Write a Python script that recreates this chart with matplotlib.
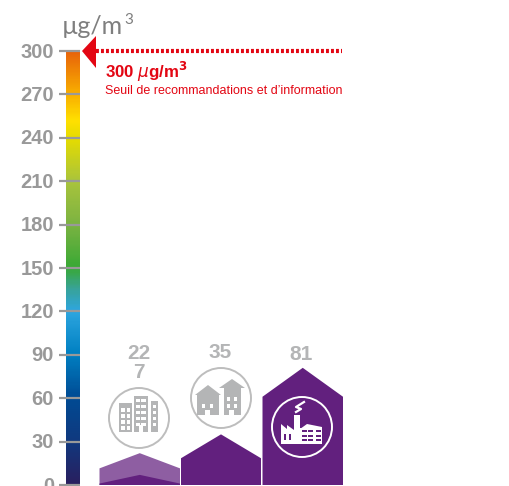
import numpy as np
import matplotlib
matplotlib.use('Agg')
import matplotlib.pyplot as plt
from matplotlib.colors import LinearSegmentedColormap
from matplotlib.patches import Circle, Polygon, Rectangle

ticks = [0, 30, 60, 90, 120, 150, 180, 210, 240, 270, 300]
threshold = 300
threshold_title = '300 $\\mu$g/m$^{\\mathbf{3}}$'
threshold_text = 'Seuil de recommandations et d\u2019information'
unit = '\u00b5g/m'
unit_exp = '3'
# valeurs des bâtiments, gauche à droite (le premier est double)
labels = ['22\n7', '35', '81']
peaks_back = [22, 35, 81]
peaks_front = [7, None, None]

scale_stops = [(0, '#2a1f5f'), (30, '#10397f'), (60, '#004b94'), (90, '#0080c2'),
               (120, '#2ea6e0'), (135, '#38a39a'), (150, '#39a935'), (180, '#7cb342'),
               (210, '#a9c43c'), (240, '#e6dc00'), (252, '#ffe000'), (270, '#f9b000'), (300, '#e8640a')]

GREY = '#999999'
LIGHT = '#b4b5b6'
PURPLE = '#62207e'
PURPLE_LIGHT = '#8e5ea2'
RED = '#e30613'
SANS = ['Liberation Sans Narrow', 'Liberation Sans', 'DejaVu Sans']

fig = plt.figure(figsize=(5.09, 4.86), dpi=100, facecolor='white')
ax = fig.add_axes([0, 0, 1, 1])
px = 434 / 300
ax.axis('off')

# surcouche en pixels pour les pictogrammes
ov = fig.add_axes([0, 0, 1, 1], facecolor='none')
ov.set_xlim(0, 509)
ov.set_ylim(486, 0)
ov.axis('off')

# échelle de couleurs
cmap = LinearSegmentedColormap.from_list('air', [(v / 300, c) for v, c in scale_stops])
grad = np.linspace(0, 1, 300).reshape(-1, 1)
ax.imshow(grad, cmap=cmap, origin='lower', extent=(66, 80, 0, threshold), aspect='auto', zorder=1)
ax.set_xlim(0, 509)
ax.set_ylim(-1 / px, 485 / px)

for t in ticks:
    ax.plot([59, 80], [t, t], color=GREY, lw=1.6, solid_capstyle='butt', zorder=2)
    ax.text(54, t - 0.7, str(t), ha='right', va='center', fontsize=14.5, color=GREY,
            family=SANS, fontweight='bold')

ov.text(62, 26, unit, ha='left', va='center', fontsize=18, color='#7f7f7f', family='Lato')
ov.text(124, 20, unit_exp, ha='left', va='center', fontsize=11, color='#7f7f7f', family='Lato')

# seuil
ax.plot([96, 342], [threshold, threshold], color=RED, lw=3, dashes=(0.7, 0.5), zorder=3)
ov.add_patch(Polygon([(82, 51), (96, 36), (96, 68)], closed=True, color=RED, lw=0, zorder=4))
ov.text(105, 72, threshold_title, ha='left', va='center', fontsize=12.2, color=RED,
        family=SANS, fontweight='bold', math_fontfamily='dejavusans')
ov.text(105, 91, threshold_text, ha='left', va='center', fontsize=9, color=RED, family=SANS)


def house(x0, x1, peak, eave, color, z=2):
    mid = (x0 + x1) / 2
    ax.add_patch(Polygon([(x0, 0), (x0, eave), (mid, peak), (x1, eave), (x1, 0)],
                         closed=True, facecolor=color, edgecolor='none', zorder=z))


house(99.5, 180, peaks_back[0], 11.5, PURPLE_LIGHT)
house(99.5, 180, peaks_front[0], 1, PURPLE, 3)
house(181, 261, peaks_back[1], 18.5, PURPLE)
house(262.5, 343, peaks_back[2], 61, PURPLE)

label_x = [139, 220, 301]
label_y = [363, 352, 354]
for x, y, s in zip(label_x, label_y, labels):
    ov.text(x, y, s, ha='center', va='center', fontsize=15, color=LIGHT,
            family='Liberation Sans', fontweight='bold', linespacing=1.0)


def rects(items, color, dx, dy, z=5):
    for x, y, w, h in items:
        ov.add_patch(Rectangle((dx + x, dy + y), w, h, facecolor=color, edgecolor='none', zorder=z))


def poly(points, color, dx, dy, z=5):
    ov.add_patch(Polygon([(dx + x, dy + y) for x, y in points], closed=True, color=color, lw=0, zorder=z))


def office(cx, cy):
    ov.add_patch(Circle((cx, cy), 30, facecolor='white', edgecolor='#bdbdbd', lw=1.4, zorder=4))
    rects([(-20, -15, 13, 29), (-5, -22, 14, 36), (12, -17, 7, 31)], LIGHT, cx, cy)
    for x in (-17.5, -12):
        for y in (-10, -4, 2, 8):
            rects([(x, y, 3.5, 4)], 'white', cx, cy, 6)
    for x in (-3, 2.5):
        for y in (-19, -13, -7, -1, 5):
            rects([(x, y, 4.5, 2.5)], 'white', cx, cy, 6)
    for y in (-13, -7, -1, 5):
        rects([(14, y, 3, 3)], 'white', cx, cy, 6)
    rects([(0, 7, 4, 7)], 'white', cx, cy, 6)


def small_houses(cx, cy):
    ov.add_patch(Circle((cx, cy), 30, facecolor='white', edgecolor='#bdbdbd', lw=1.4, zorder=4))
    poly([(-26, -3), (-13, -13), (0, -3)], LIGHT, cx, cy)
    poly([(-2, -10), (11, -19), (24, -10)], LIGHT, cx, cy)
    rects([(-24, -3, 22, 20), (3, -10, 17, 27)], LIGHT, cx, cy)
    rects([(-19, 6, 3.5, 3.5), (-11, 6, 3.5, 3.5), (6, -1, 3.5, 3.5), (13, -1, 3.5, 3.5),
           (6, 6, 3.5, 3.5), (13, 6, 3.5, 3.5), (-16, 12, 5, 5), (8, 12, 5, 5)], 'white', cx, cy, 6)


def factory(cx, cy):
    ov.add_patch(Circle((cx, cy), 30, facecolor='none', edgecolor='white', lw=1.4, zorder=4))
    W = 'white'
    poly([(-21, -3), (-15, 2), (-15, -2), (-8, 3), (-8, 17), (-21, 17)], W, cx, cy)
    rects([(-8, -12, 6, 29), (-2, 1, 22, 16)], W, cx, cy)
    poly([(-2, 2), (5, -3), (20, 0), (20, 2)], W, cx, cy)
    for y in (3, 7.5, 11.7):
        for x in (0, 6, 14):
            rects([(x, y, 5, 2.4)], PURPLE, cx, cy, 6)
    rects([(-18, 7, 2, 6), (-13, 7, 2, 6)], PURPLE, cx, cy, 6)
    ov.plot([cx + 2, cx - 6, cx - 1, cx - 6], [cy - 25, cy - 20, cy - 18, cy - 15], color=W, lw=1.6, zorder=5)


office(139, 418)
small_houses(221, 398)
factory(302, 427)

fig.savefig('out.png', dpi=100)
